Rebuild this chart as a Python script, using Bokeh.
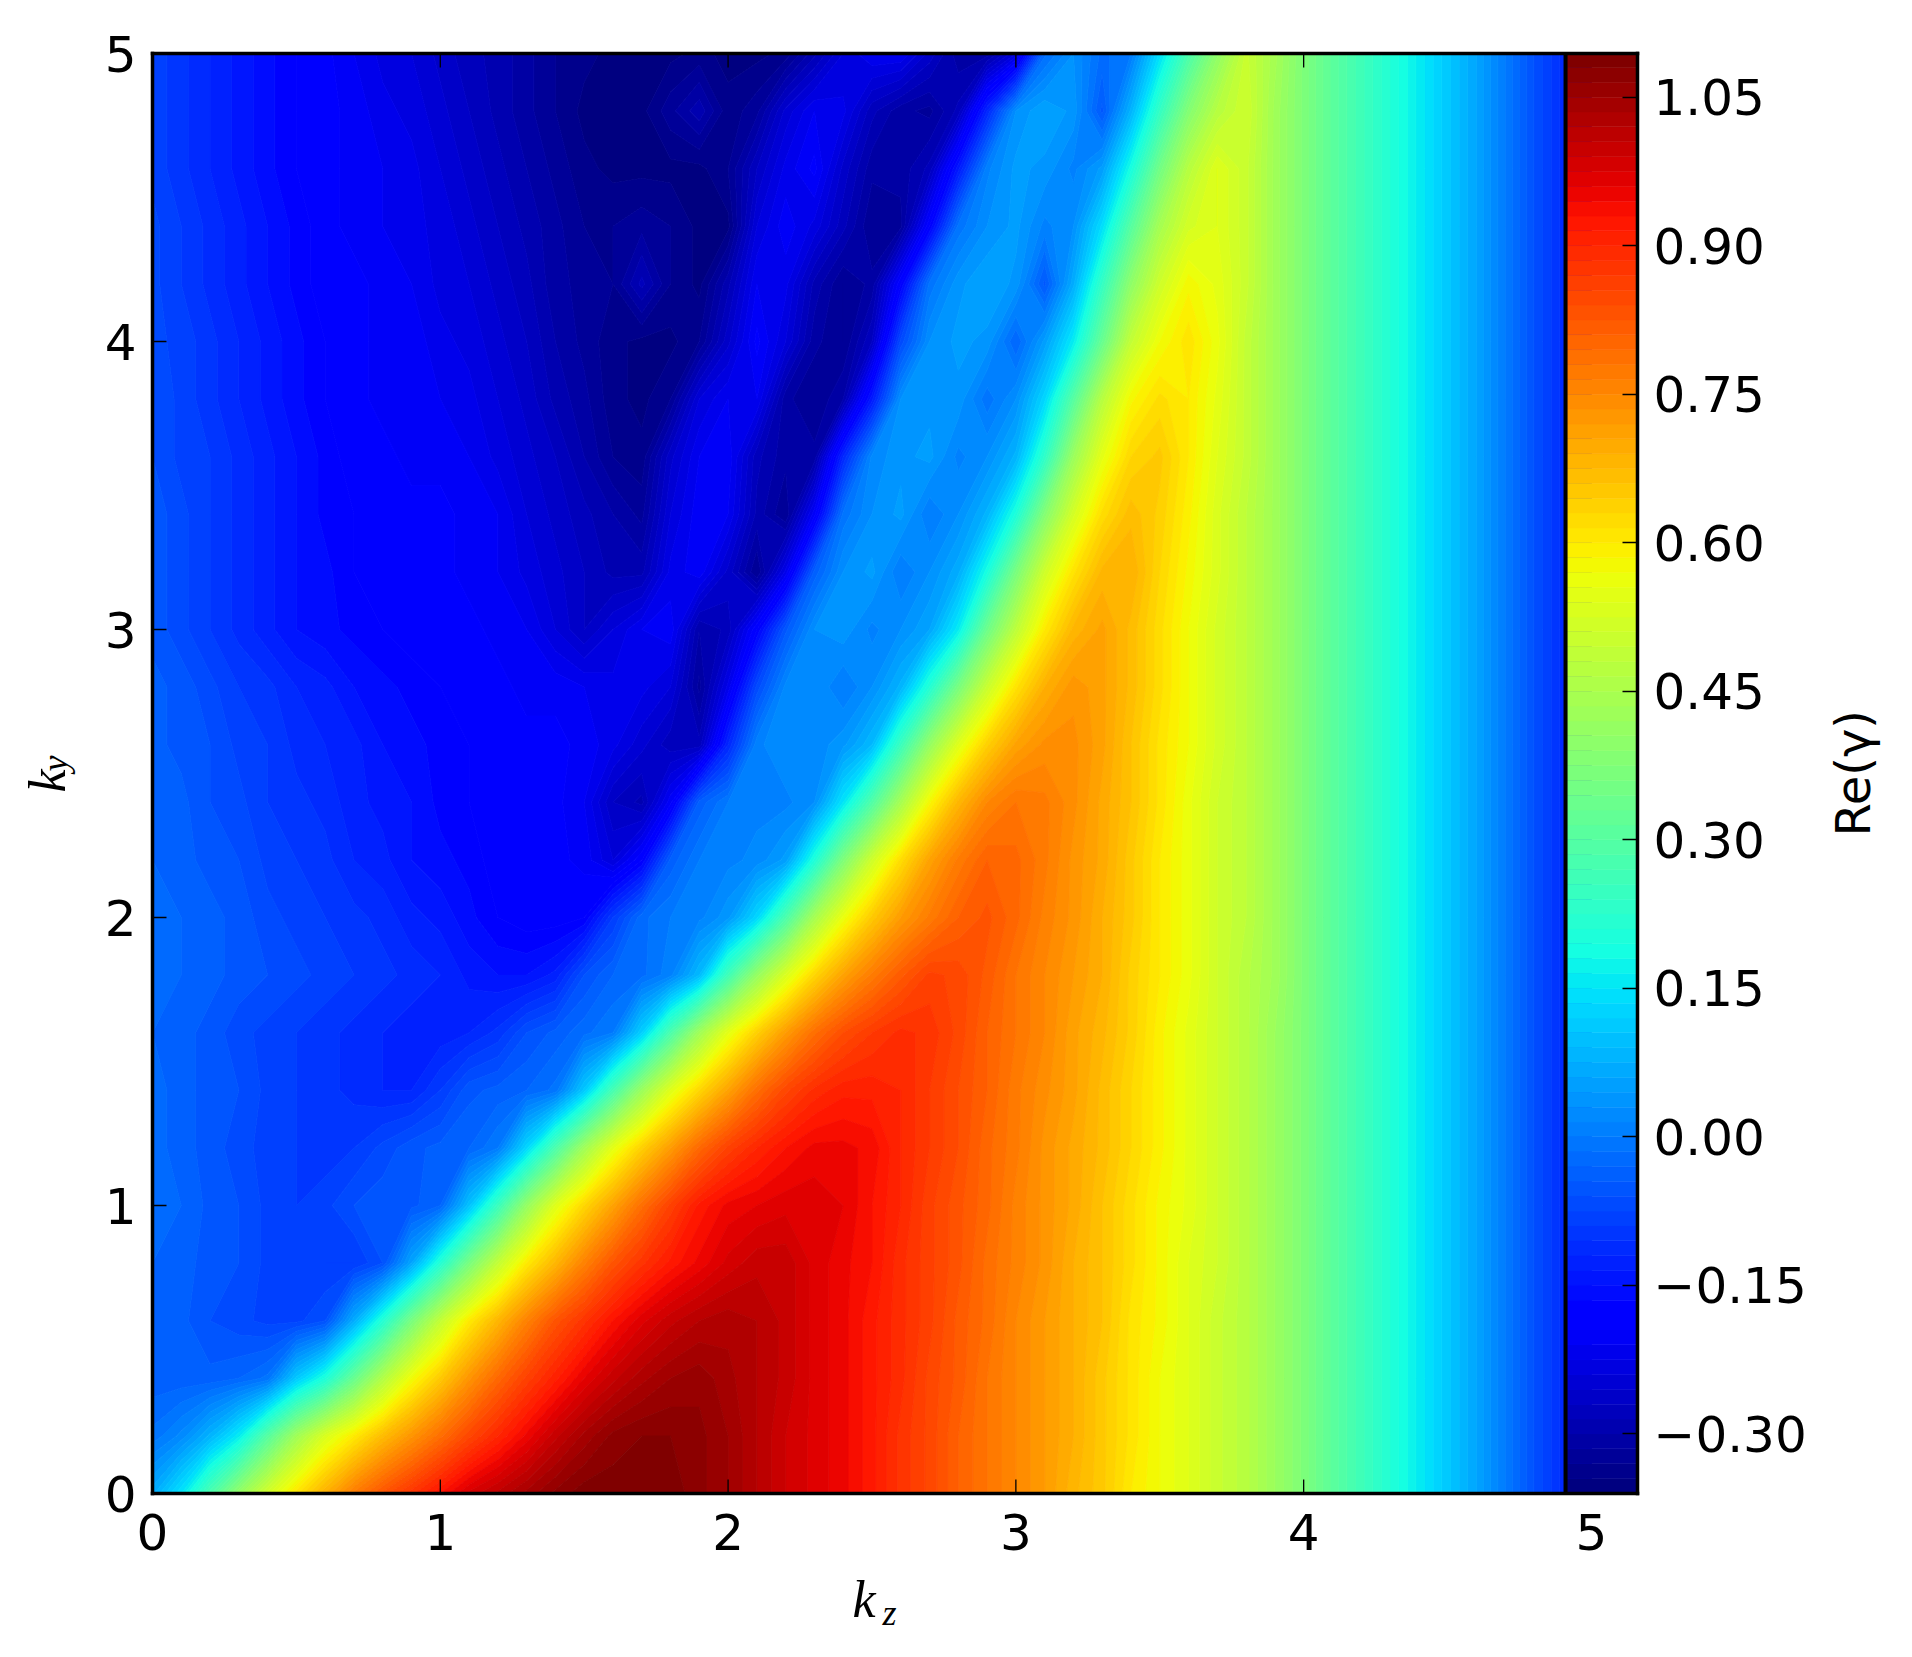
import numpy as np
from bokeh.plotting import figure
from bokeh.plotting.contour import contour_data
from bokeh.models import ColumnDataSource, FixedTicker, Label, LinearAxis, Range1d
from bokeh.embed import file_html
from bokeh.resources import INLINE

X_TICKS = [0, 1, 2, 3, 4, 5]
Y_TICKS = [0, 1, 2, 3, 4, 5]
CB_TICKS = [-0.3, -0.15, 0.0, 0.15, 0.3, 0.45, 0.6, 0.75, 0.9, 1.05]
CB_LABELS = ["\u22120.30", "\u22120.15", "0.00", "0.15", "0.30", "0.45", "0.60", "0.75", "0.90", "1.05"]

# Re(gamma) x 100; rows are ky = 0, 0.2 ... 5.0, columns kz = 0, 0.1 ... 3.9
ky00 = [7,15,28,41,52,61,69,77,83,88,93,98,101,104,107,109,109,109,109,107,105,102,99,97,95,92,88,85,81,78,75,72,68,65,60,57,54,50,47,42]
ky02 = [-1,2,8,16,30,43,53,60,67,73,79,85,90,95,100,104,107,108,108,107,105,102,99,97,95,92,88,85,81,78,75,72,69,65,61,57,54,50,47,42]
ky04 = [-4,-4,-4,-3,-1,11,20,33,46,57,65,73,80,86,91,96,100,103,105,106,104,102,100,97,95,92,89,85,82,78,75,72,69,65,61,57,54,50,47,42]
ky06 = [-3,-4,-6,-7,-8,-8,-6,7,21,36,49,60,68,76,83,88,93,97,100,102,103,102,100,97,95,92,89,86,82,79,75,72,69,66,61,58,54,50,47,42]
ky08 = [-3,-4,-5,-6,-8,-8,-9,-9,-6,6,21,36,49,60,68,76,83,88,92,95,98,100,100,97,95,93,89,86,83,79,76,73,69,66,62,58,54,51,47,42]
ky10 = [-2,-3,-5,-6,-8,-9,-8,-6,-5,-5,-3,10,25,41,54,63,71,79,86,92,95,96,97,97,96,93,90,86,83,80,76,73,70,66,62,58,55,51,47,42]
ky12 = [-2,-4,-5,-7,-8,-9,-10,-9,-7,-5,-4,-3,0,13,28,43,55,64,72,80,86,90,93,95,95,94,90,87,84,80,77,73,70,67,63,59,55,51,47,42]
ky14 = [-2,-4,-5,-6,-8,-9,-10,-11,-12,-12,-9,-5,-4,-3,-1,11,27,42,54,63,71,79,85,89,91,91,90,87,84,81,77,74,71,67,63,59,55,51,47,42]
ky16 = [-3,-4,-5,-7,-8,-9,-10,-11,-12,-13,-13,-12,-10,-6,-4,-2,0,12,28,43,55,64,72,79,84,87,89,88,85,81,78,75,71,68,64,59,55,51,47,42]
ky18 = [-2,-3,-4,-5,-6,-7,-8,-9,-10,-11,-12,-14,-15,-15,-13,-6,-3,-2,1,9,26,41,53,63,71,77,82,86,85,82,78,75,72,69,64,60,56,51,47,43]
ky20 = [-2,-3,-4,-5,-7,-8,-9,-10,-11,-13,-14,-16,-18,-19,-19,-18,-9,-2,0,1,4,13,28,44,56,65,72,77,81,83,80,76,73,69,65,60,56,51,48,43]
ky22 = [-3,-4,-5,-6,-8,-9,-10,-12,-13,-15,-16,-17,-19,-19,-19,-20,-24,-18,-4,0,1,2,5,20,37,51,62,71,77,81,80,77,73,70,65,60,56,51,48,43]
ky24 = [-3,-4,-6,-7,-9,-10,-11,-13,-14,-15,-17,-18,-19,-19,-19,-21,-27,-29,-20,-4,0,1,1,3,15,29,44,58,68,75,78,77,74,70,66,61,56,51,48,43]
ky26 = [-4,-5,-6,-8,-9,-11,-12,-13,-15,-16,-17,-18,-19,-19,-19,-20,-22,-25,-28,-28,-12,1,3,2,4,9,25,41,54,64,71,74,74,71,66,61,57,52,48,43]
ky28 = [-4,-5,-7,-9,-10,-12,-13,-15,-16,-17,-18,-19,-19,-20,-20,-21,-22,-22,-24,-32,-22,-7,2,3,0,3,8,21,36,50,61,69,73,71,67,62,57,52,48,43]
ky30 = [-5,-7,-9,-11,-13,-15,-16,-17,-18,-19,-19,-19,-20,-21,-24,-27,-24,-21,-20,-30,-28,-18,-5,3,4,1,3,6,16,34,48,60,68,71,67,62,57,52,48,43]
ky32 = [-5,-7,-9,-11,-13,-15,-16,-18,-19,-19,-19,-20,-21,-23,-25,-27,-29,-29,-22,-20,-26,-33,-22,-4,3,5,0,3,7,19,36,51,61,68,69,63,58,53,48,43]
ky34 = [-5,-7,-9,-11,-13,-15,-17,-18,-19,-19,-19,-20,-21,-24,-26,-28,-30,-32,-24,-20,-21,-29,-33,-20,-1,3,5,0,3,8,20,38,52,62,67,64,59,53,48,43]
ky36 = [-6,-8,-9,-11,-13,-15,-17,-19,-19,-20,-20,-21,-23,-25,-27,-30,-33,-34,-26,-21,-20,-28,-31,-31,-12,2,4,5,1,3,8,23,42,55,63,65,60,54,49,43]
ky38 = [-6,-8,-10,-12,-14,-16,-18,-19,-20,-20,-21,-22,-24,-26,-29,-31,-34,-35,-33,-24,-21,-21,-31,-33,-30,-14,3,4,4,-1,3,13,30,47,58,62,60,55,49,43]
ky40 = [-7,-8,-10,-12,-14,-16,-18,-19,-20,-20,-22,-23,-25,-27,-30,-32,-34,-35,-35,-33,-26,-19,-24,-31,-33,-27,-7,3,5,4,-3,5,16,33,49,57,61,56,49,43]
ky42 = [-7,-9,-11,-13,-15,-17,-19,-19,-20,-21,-23,-24,-26,-28,-31,-32,-33,-28,-33,-35,-29,-21,-22,-29,-33,-31,-18,-1,4,6,4,-5,7,24,40,51,58,55,50,43]
ky44 = [-7,-9,-11,-13,-15,-17,-19,-20,-21,-22,-23,-25,-27,-29,-31,-33,-33,-32,-33,-35,-35,-24,-20,-23,-28,-33,-32,-18,-1,3,5,1,3,14,30,44,52,54,50,43]
ky46 = [-8,-10,-12,-14,-16,-18,-19,-20,-21,-22,-24,-26,-28,-30,-32,-34,-35,-35,-35,-35,-33,-27,-22,-19,-26,-31,-31,-28,-14,1,5,4,1,5,19,35,47,54,50,43]
ky48 = [-8,-10,-12,-14,-16,-18,-19,-20,-22,-23,-25,-27,-29,-31,-33,-35,-35,-35,-32,-29,-34,-32,-25,-21,-22,-28,-31,-32,-28,-12,3,6,4,-5,8,24,38,47,51,43]
ky50 = [-8,-10,-12,-14,-16,-18,-19,-21,-23,-24,-26,-28,-29,-31,-33,-34,-35,-35,-35,-34,-35,-35,-34,-29,-24,-21,-21,-26,-31,-31,-24,-2,3,-2,0,14,28,40,50,44]
# the bands for kz = 4.0 ... 5.0 do not change with ky
tail = [37,31,26,21,16,11,6,0,-6,-11,-16]

rows = [ky00, ky02, ky04, ky06, ky08, ky10, ky12, ky14, ky16, ky18, ky20, ky22, ky24,
        ky26, ky28, ky30, ky32, ky34, ky36, ky38, ky40, ky42, ky44, ky46, ky48, ky50]
z = np.array([r + tail for r in rows], dtype=float) / 100.0
kz = np.arange(z.shape[1]) * 0.1
ky = np.arange(z.shape[0]) * 0.2

LEVELS = np.arange(98) * 0.015 - 0.36


def jet(f):
    r = np.interp(f, [0, 0.35, 0.66, 0.89, 1], [0, 0, 1, 1, 0.5])
    g = np.interp(f, [0, 0.125, 0.375, 0.64, 0.91, 1], [0, 0, 1, 1, 0, 0])
    b = np.interp(f, [0, 0.11, 0.34, 0.65, 1], [0.5, 1, 1, 0, 0])
    return "#%02x%02x%02x" % (int(r * 255 + 0.5), int(g * 255 + 0.5), int(b * 255 + 0.5))


n_bands = len(LEVELS) - 1
band_colors = [jet(i / (n_bands - 1)) for i in range(n_bands)]

X_MAX = 5.16
CB_LEFT = 4.91

p = figure(width=1890, height=1640, frame_width=1485, frame_height=1440,
           x_range=Range1d(0, X_MAX), y_range=Range1d(0, 5),
           x_axis_type=None, y_axis_type=None,
           min_border_left=152, min_border_right=253, min_border_top=53, min_border_bottom=147,
           output_backend="svg", toolbar_location=None, background_fill_color="white")
p.grid.visible = False
p.outline_line_color = None
p.extra_y_ranges = {"cb": Range1d(-0.3602, 1.0941)}

fd = contour_data(kz, ky, z, levels=LEVELS, want_fill=True, want_line=False).fill_data
src = ColumnDataSource(dict(xs=fd.xs, ys=fd.ys, c=band_colors))
p.multi_polygons(xs="xs", ys="ys", source=src, fill_color="c", line_color="c", line_width=0.8)

cb = ColumnDataSource(dict(bottom=LEVELS[:-1], top=LEVELS[1:], c=band_colors,
                           left=[CB_LEFT] * n_bands, right=[X_MAX] * n_bands))
p.quad(left="left", right="right", bottom="bottom", top="top", source=cb, fill_color="c",
       line_color="c", line_width=0.5, y_range_name="cb")

# x ticks inside the frame, only where the colour bar does not cover them
TICK_LEN = 14 / 288
frame_ticks = X_TICKS[:-1]
p.segment(x0=frame_ticks, x1=frame_ticks, y0=[0] * 5, y1=[TICK_LEN] * 5, line_color="black", line_width=1.3)
p.segment(x0=frame_ticks, x1=frame_ticks, y0=[5] * 5, y1=[5 - TICK_LEN] * 5, line_color="black", line_width=1.3)
# the edge of the colour bar
p.quad(left=[CB_LEFT - 0.007], right=[CB_LEFT + 0.007], bottom=[0], top=[5], fill_color="black", line_color="black", line_width=0)

FONT = "DejaVu Sans"


def style(ax, length=14):
    ax.major_tick_in = length
    ax.major_tick_out = 0
    ax.minor_tick_line_color = None
    ax.axis_line_color = "black"
    ax.axis_line_width = 3.5
    ax.axis_line_cap = "square"
    ax.major_tick_line_color = "black"
    ax.major_tick_line_width = 1.3
    ax.major_label_text_font = FONT
    ax.major_label_text_font_size = "50px"
    ax.major_label_text_color = "black"


bottom = LinearAxis(ticker=FixedTicker(ticks=X_TICKS), major_label_standoff=20)
style(bottom)
bottom.major_tick_line_color = None
p.add_layout(bottom, "below")
left = LinearAxis(ticker=FixedTicker(ticks=Y_TICKS), major_label_standoff=16)
style(left)
p.add_layout(left, "left")
top = LinearAxis(ticker=FixedTicker(ticks=[]))
style(top)
p.add_layout(top, "above")

cbax = LinearAxis(y_range_name="cb", ticker=FixedTicker(ticks=CB_TICKS),
                  major_label_overrides=dict(zip(CB_TICKS, CB_LABELS)), major_label_standoff=16)
style(cbax, 15)
p.add_layout(cbax, "right")

# labels live in the side panels, so that they are not clipped to the frame
SERIF = "Liberation Serif"
for txt, x, y, size, ang, side in [("k", 700, 10, "52px", 0, "below"), ("z", 730, 37, "36px", 0, "below"),
                                   ("k", 3, 701, "52px", np.pi / 2, "left"), ("y", 50, 722, "36px", np.pi / 2, "left")]:
    p.add_layout(Label(x=x, y=y, x_units="screen", y_units="screen", text=txt, text_font=SERIF,
                       text_font_style="italic", text_font_size=size, angle=ang, text_color="black",
                       text_baseline="alphabetic", text_align="left"), side)
p.add_layout(Label(x=43, y=657, x_units="screen", y_units="screen", text="Re(\u03b3)", text_font=FONT,
                   text_font_size="48px", angle=np.pi / 2, text_color="black", text_baseline="alphabetic",
                   text_align="left"), "right")

open("out.html", "w").write(file_html(p, INLINE))
